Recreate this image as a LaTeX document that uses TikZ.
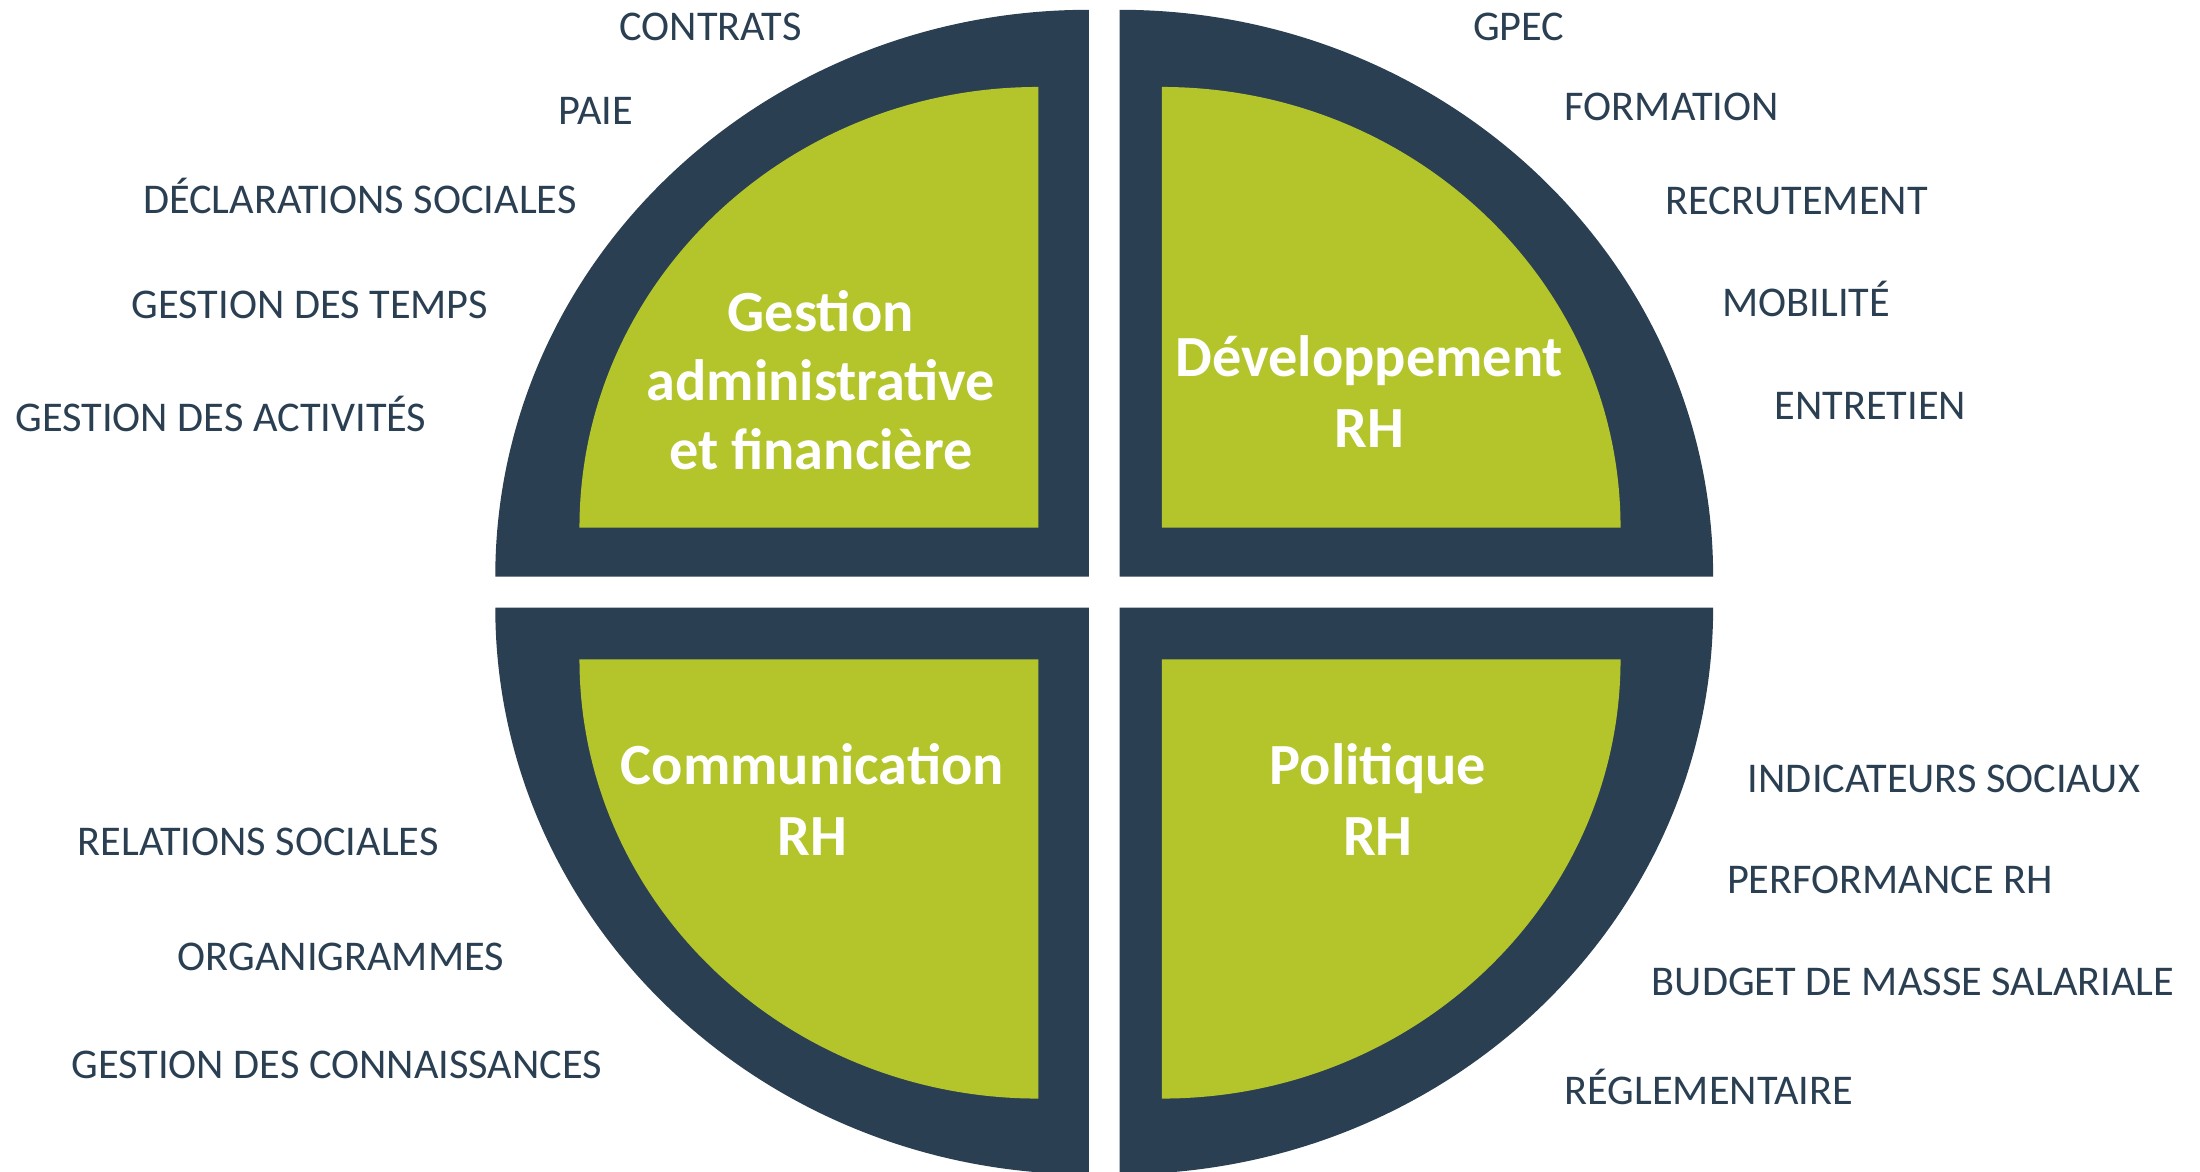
\documentclass[tikz,border=0pt]{standalone}
\usepackage{fontspec}
\setmainfont{Carlito}
\definecolor{navy}{HTML}{2B3F52}
\definecolor{lime}{HTML}{B3C52B}
\begin{document}
\begin{tikzpicture}[x=0.014031cm,y=0.014031cm,
  outerq/.style={fill=navy,draw=none},
  innerq/.style={fill=lime,draw=none},
  lbl/.style={text=navy,font=\fontsize{12.05}{14}\selectfont,inner sep=0pt},
  ttl/.style={text=white,font=\bfseries\fontsize{16.6}{19.6}\selectfont,align=center,inner sep=0pt},
  ttltwo/.style={ttl,font=\bfseries\fontsize{16.6}{20.2}\selectfont}]
\useasboundingbox (0,0) rectangle (1568,835);
% outer quadrants
\fill[outerq] (776,424) -- (353,424) arc[start angle=180,end angle=90,x radius=423,y radius=404] -- cycle;
\fill[outerq] (798,424) -- (798,828) arc[start angle=90,end angle=0,x radius=423,y radius=404] -- cycle;
\fill[outerq] (776,402) -- (353,402) arc[start angle=180,end angle=270,x radius=423,y radius=404] -- cycle;
\fill[outerq] (798,402) -- (798,-2) arc[start angle=270,end angle=360,x radius=423,y radius=404] -- cycle;
% inner quadrants
\fill[innerq] (740,459) -- (413,459) arc[start angle=180,end angle=90,x radius=327,y radius=314] -- cycle;
\fill[innerq] (828,459) -- (828,773) arc[start angle=90,end angle=0,x radius=327,y radius=314] -- cycle;
\fill[innerq] (740,365) -- (413,365) arc[start angle=180,end angle=270,x radius=327,y radius=313] -- cycle;
\fill[innerq] (828,365) -- (828,52) arc[start angle=270,end angle=360,x radius=327,y radius=313] -- cycle;
% titles
\node[ttl] (tga) at (585,564) {Gestion\\administrative\\et financière};
\node[ttltwo] (tdr) at (976,556) {Développement\\RH};
\node[ttltwo] (tcr) at (579,265) {Communication\\RH};
\node[ttltwo] (tpr) at (982,265) {Politique\\RH};
% upper-left labels
\node[lbl] (l1) at (506.5,816) {CONTRATS};
\node[lbl] (l2) at (424.5,756) {PAIE};
\node[lbl] (l3) at (256.5,695) {DÉCLARATIONS SOCIALES};
\node[lbl] (l4) at (221,618) {GESTION DES TEMPS};
\node[lbl] (l5) at (157.5,540) {GESTION DES ACTIVITÉS};
% upper-right labels
\node[lbl] (r1) at (1082.5,816) {GPEC};
\node[lbl] (r2) at (1191.5,759) {FORMATION};
\node[lbl] (r3) at (1280.5,692) {RECRUTEMENT};
\node[lbl] (r4) at (1287.5,622) {MOBILITÉ};
\node[lbl] (r5) at (1333,546) {ENTRETIEN};
% lower-left labels
\node[lbl] (b1) at (184,235) {RELATIONS SOCIALES};
\node[lbl] (b2) at (243,153) {ORGANIGRAMMES};
\node[lbl] (b3) at (240,76) {GESTION DES CONNAISSANCES};
% lower-right labels
\node[lbl] (c1) at (1385.5,280) {INDICATEURS SOCIAUX};
\node[lbl] (c2) at (1347,208) {PERFORMANCE RH};
\node[lbl] (c3) at (1363.5,135) {BUDGET DE MASSE SALARIALE};
\node[lbl] (c4) at (1218,60) {RÉGLEMENTAIRE};
\end{tikzpicture}
\end{document}
